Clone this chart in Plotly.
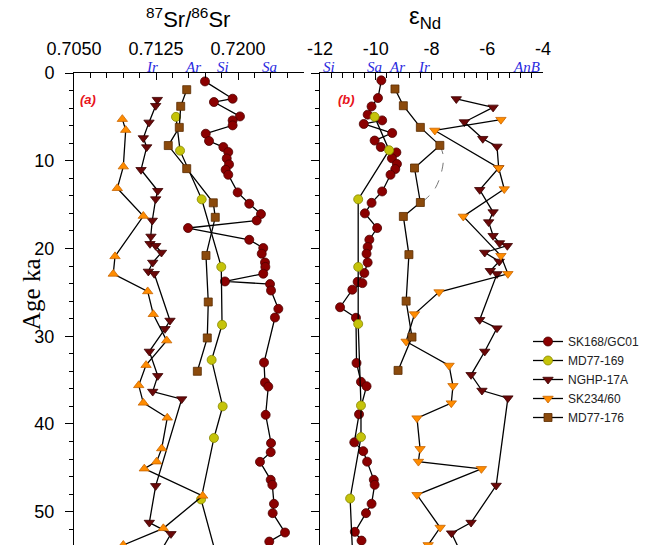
import plotly.graph_objects as go

# ---------------- data ----------------
series_names = ["SK168/GC01", "MD77-169", "NGHP-17A", "SK234/60", "MD77-176"]

# 87Sr/86Sr (panel a)
sk168_sr_age = [0.96, 2.93, 3.31, 4.95, 5.40, 5.97, 6.92, 7.75, 8.44, 9.01, 9.74, 10.42, 11.03, 11.60,
                13.61, 14.90, 16.08, 16.81, 17.67, 19.01, 19.95, 20.60, 21.6, 22.1, 22.88, 23.76, 24.06,
                24.79, 26.88, 27.87, 33.0, 35.28, 35.74, 38.96, 42.19, 43.22, 44.32, 46.37, 46.94,
                49.11, 50.17, 52.38, 53.41]
sk168_sr = [0.71698, 0.71951, 0.71780, 0.72018, 0.71951, 0.71951, 0.71705, 0.71735, 0.71866, 0.71911,
            0.71897, 0.71918, 0.71887, 0.71911, 0.71997, 0.72103, 0.72210, 0.72171, 0.71543, 0.72103,
            0.72231, 0.72217, 0.72247, 0.72250, 0.72231, 0.71881, 0.72293, 0.72302, 0.72369, 0.72338,
            0.72238, 0.72247, 0.72277, 0.72253, 0.72302, 0.72299, 0.72201, 0.72299, 0.72314, 0.72329,
            0.72317, 0.72430, 0.72286]

md169_sr_age = [5.0, 8.85, 14.4, 22.1, 28.7, 32.7, 38.0, 41.6, 48.6, 57.0]
md169_sr = [0.71433, 0.71470, 0.71668, 0.71847, 0.71854, 0.71759, 0.71860, 0.71780, 0.71662, 0.71845]

nghp_sr_age = [3.04, 3.73, 5.63, 7.41, 8.44, 11.03, 13.42, 14.37, 16.81, 18.63, 19.47, 19.69, 20.46,
               21.6, 22.62, 22.88, 28.21, 29.16, 31.74, 34.52, 36.31, 37.17, 47.06, 51.24, 52.53, 56.5]
nghp_sr = [0.71262, 0.71247, 0.71186, 0.71134, 0.71165, 0.71113, 0.71266, 0.71247, 0.71216, 0.71204,
           0.71195, 0.71247, 0.71300, 0.71220, 0.71180, 0.71234, 0.71378, 0.71332, 0.71189, 0.71266,
           0.71220, 0.71485, 0.71247, 0.71189, 0.71387, 0.71200]

sk234_sr_age = [5.26, 6.51, 10.67, 13.14, 16.3, 20.9, 22.9, 24.9, 27.5, 30.5, 33.3, 35.6, 37.6, 39.3,
                42.8, 44.3, 45.1, 48.2, 51.9, 53.8]
sk234_sr = [0.70942, 0.70973, 0.70951, 0.70896, 0.71134, 0.70875, 0.70859, 0.71174, 0.71225, 0.71348,
            0.71159, 0.71092, 0.71134, 0.71353, 0.71302, 0.71256, 0.71143, 0.71677, 0.71317, 0.70951]

md176_sr_age = [1.9, 3.8, 6.2, 8.27, 10.9, 14.8, 16.45, 20.8, 26.1, 30.2, 34.0]
md176_sr = [0.71531, 0.71476, 0.71463, 0.71362, 0.71531, 0.71774, 0.71792, 0.71707, 0.71728, 0.71719,
            0.71628]

# eps Nd (panel b)
sk168_nd_age = [0.84, 2.85, 3.81, 4.75, 5.40, 5.81, 6.84, 7.70, 8.44, 9.05, 9.72, 10.37, 10.95, 11.60,
                13.50, 14.80, 16.00, 17.67, 19.00, 19.83, 20.60, 21.60, 22.80, 23.80, 23.95, 24.70,
                26.70, 27.90, 33.05, 35.20, 35.70, 38.90, 42.10, 43.10, 44.30, 46.37, 46.94, 49.10,
                50.17, 52.30, 53.30]
sk168_nd = [-9.80, -9.92, -10.15, -10.29, -9.77, -10.43, -9.41, -10.04, -9.82, -9.26, -9.42, -9.24,
            -9.30, -9.47, -9.77, -10.15, -10.39, -9.95, -10.23, -10.29, -10.33, -10.29, -10.41, -10.65,
            -10.48, -10.84, -11.28, -10.71, -10.69, -10.53, -10.33, -10.60, -10.77, -10.45, -10.31,
            -10.07, -10.04, -10.15, -10.35, -10.75, -10.51]

md169_nd_age = [5.0, 8.8, 14.4, 22.1, 28.6, 37.9, 41.5, 48.5, 57.0]
md169_nd = [-10.04, -9.52, -10.63, -10.63, -10.63, -10.53, -10.53, -10.92, -10.80]

nghp_nd_age = [2.96, 3.92, 5.59, 7.49, 8.37, 10.83, 13.31, 15.85, 16.99, 18.55, 19.38, 19.69, 20.46,
               21.48, 22.54, 22.90, 28.13, 29.08, 31.74, 34.40, 36.19, 37.06, 47.02, 51.24, 52.45, 56.0]
nghp_nd = [-7.11, -5.79, -6.82, -6.16, -5.65, -5.59, -6.27, -5.79, -5.95, -5.79, -5.56, -5.28, -6.09,
           -5.57, -5.89, -5.65, -6.27, -5.65, -6.09, -6.58, -6.19, -5.26, -5.68, -6.58, -7.28, -6.75]

sk234_nd_age = [5.32, 6.55, 10.83, 13.23, 16.35, 20.83, 22.89, 24.97, 27.48, 30.6, 33.34, 35.66, 37.63,
                39.34, 42.84, 44.29, 45.12, 48.08, 51.81, 53.79]
sk234_nd = [-5.51, -7.88, -5.59, -5.39, -6.86, -5.51, -5.26, -7.73, -8.61, -8.91, -7.37, -7.23, -7.29,
            -8.52, -8.41, -8.47, -6.21, -8.52, -7.69, -8.12]

md176_nd_age = [1.82, 3.73, 6.2, 8.25, 10.83, 14.76, 16.35, 20.7, 26.0, 30.1, 33.9]
md176_nd = [-9.31, -9.01, -8.40, -7.70, -8.61, -8.40, -9.01, -8.81, -8.91, -8.70, -9.20]

# dashed link drawn in panel b
link_nd_age = [8.25, 9.4, 11.0, 13.1, 14.4, 14.76]
link_nd = [-7.70, -7.58, -7.62, -7.86, -8.22, -8.40]

# end-member reference marks
sr_bar_vals = [0.71339, 0.71485, 0.71994, 0.72158]
sr_lab_text = ["Ir", "Ar", "Si", "Sa"]
sr_lab_vals = [0.71213, 0.71588, 0.71863, 0.72284]
nd_bar_vals = [-11.22, -10.43, -8.90, -8.76, -5.16]
nd_lab_text = ["Si", "Sa", "Ar", "Ir", "AnB"]
nd_lab_vals = [-11.68, -10.05, -9.23, -8.27, -4.58]

sr_ticks = [0.7050, 0.7125, 0.7200]
sr_ticktext = ["0.7050", "0.7125", "0.7200"]
nd_ticks = [-12, -10, -8, -6, -4]
age_ticks = [0, 10, 20, 30, 40, 50]

# ---------------- styles ----------------
styles = {
    "SK168/GC01": dict(symbol="circle", color="#8b0000", line="#4d0000", size=9),
    "MD77-169": dict(symbol="circle", color="#c5c30a", line="#878600", size=9),
    "NGHP-17A": dict(symbol="triangle-down", color="#6a0808", line="#3a0000", size=9),
    "SK234/60": dict(symbol="triangle-down", color="#ff8c00", line="#c86400", size=9),
    "MD77-176": dict(symbol="square", color="#8b4a0c", line="#5a2c00", size=8),
}

sr_data = {
    "SK168/GC01": (sk168_sr, sk168_sr_age),
    "MD77-169": (md169_sr, md169_sr_age),
    "NGHP-17A": (nghp_sr, nghp_sr_age),
    "SK234/60": (sk234_sr, sk234_sr_age),
    "MD77-176": (md176_sr, md176_sr_age),
}
nd_data = {
    "SK168/GC01": (sk168_nd, sk168_nd_age),
    "MD77-169": (md169_nd, md169_nd_age),
    "NGHP-17A": (nghp_nd, nghp_nd_age),
    "SK234/60": (sk234_nd, sk234_nd_age),
    "MD77-176": (md176_nd, md176_nd_age),
}

fig = go.Figure()

fig.add_trace(go.Scatter(x=link_nd, y=link_nd_age, xaxis="x2", yaxis="y2", mode="lines",
                         line=dict(color="#777777", width=1, dash="dash", shape="spline"),
                         showlegend=False, hoverinfo="skip"))

for name in series_names:
    st = styles[name]
    xs, ys = sr_data[name]
    sym_left = "triangle-up" if name == "SK234/60" else st["symbol"]
    fig.add_trace(go.Scatter(
        x=xs, y=ys, xaxis="x", yaxis="y", mode="lines+markers", name=name,
        showlegend=False,
        line=dict(color="black", width=1.3),
        marker=dict(symbol=sym_left, size=st["size"], color=st["color"],
                    line=dict(color=st["line"], width=0.8)),
    ))
    xs, ys = nd_data[name]
    fig.add_trace(go.Scatter(
        x=xs, y=ys, xaxis="x2", yaxis="y2", mode="lines+markers", name=name,
        showlegend=True,
        line=dict(color="black", width=1.3),
        marker=dict(symbol=st["symbol"], size=st["size"], color=st["color"],
                    line=dict(color=st["line"], width=0.8)),
    ))

bar_y = -0.3
fig.add_trace(go.Scatter(x=sr_bar_vals, y=[bar_y] * len(sr_bar_vals), xaxis="x", yaxis="y",
                         mode="markers", cliponaxis=False, showlegend=False, hoverinfo="skip",
                         marker=dict(symbol="line-ns", size=19,
                                     line=dict(color="#ee1111", width=3.2))))
fig.add_trace(go.Scatter(x=nd_bar_vals, y=[bar_y] * len(nd_bar_vals), xaxis="x2", yaxis="y2",
                         mode="markers", cliponaxis=False, showlegend=False, hoverinfo="skip",
                         marker=dict(symbol="line-ns", size=19,
                                     line=dict(color="#ee1111", width=3.2))))

ML, MR, MT, MB = 74, 108, 73, 0
W, H = 651, 545
pw = W - ML - MR
ph = H - MT - MB
left_end = (303.6 - ML) / pw
right_start = (320 - ML) / pw

def py(yp):
    return (H - MB - yp) / ph

def px(xp):
    return (xp - ML) / pw

font_main = "Arial, Liberation Sans, sans-serif"
font_serif = "Times New Roman, Liberation Serif, serif"

annotations = []
for t, v in zip(sr_lab_text, sr_lab_vals):
    annotations.append(dict(x=v, xref="x", y=py(67), yref="paper", text="<i>%s</i>" % t,
                            showarrow=False, font=dict(family=font_serif, size=15, color="#2a2ae0"),
                            xanchor="center", yanchor="middle"))
for t, v in zip(nd_lab_text, nd_lab_vals):
    annotations.append(dict(x=v, xref="x2", y=py(67), yref="paper", text="<i>%s</i>" % t,
                            showarrow=False, font=dict(family=font_serif, size=15, color="#2a2ae0"),
                            xanchor="center", yanchor="middle"))

annotations += [
    dict(x=px(188), y=py(18), xref="paper", yref="paper", showarrow=False,
         text="<sup>87</sup>Sr/<sup>86</sup>Sr", font=dict(family=font_main, size=22, color="black"),
         xanchor="center", yanchor="middle"),
    dict(x=px(425), y=py(18), xref="paper", yref="paper", showarrow=False,
         text="ε<sub>Nd</sub>", font=dict(family=font_main, size=24, color="black"),
         xanchor="center", yanchor="middle"),
    dict(x=px(31), y=py(294), xref="paper", yref="paper", showarrow=False, textangle=-90,
         text="Age ka", font=dict(family=font_serif, size=25, color="black"),
         xanchor="center", yanchor="middle"),
    dict(x=px(88), y=py(100), xref="paper", yref="paper", showarrow=False,
         text="<b><i>(a)</i></b>", font=dict(family=font_main, size=13, color="#e8141b"),
         xanchor="center", yanchor="middle"),
    dict(x=px(346), y=py(100), xref="paper", yref="paper", showarrow=False,
         text="<b><i>(b)</i></b>", font=dict(family=font_main, size=13, color="#e8141b"),
         xanchor="center", yanchor="middle"),
]

xcommon = dict(side="top", showline=True, linecolor="black", linewidth=1, showgrid=False,
               zeroline=False, ticks="inside", ticklen=7, tickcolor="black", tickwidth=1,
               tickfont=dict(family=font_main, size=18, color="black"), ticklabelstandoff=10)
ycommon = dict(range=[53.8, 0], showline=True, linecolor="black", linewidth=1, showgrid=False,
               zeroline=False, ticks="outside", ticklen=8, tickcolor="black", tickwidth=1.2,
               tickvals=age_ticks,
               minor=dict(dtick=2, tick0=0, ticks="outside", ticklen=4, tickcolor="black"),
               tickfont=dict(family=font_main, size=18, color="black"))

fig.update_layout(
    width=W, height=H,
    margin=dict(l=ML, r=MR, t=MT, b=MB),
    paper_bgcolor="white", plot_bgcolor="white",
    xaxis=dict(domain=[0, left_end], range=[0.705, 0.726], anchor="y",
               tickvals=sr_ticks, ticktext=sr_ticktext,
               minor=dict(dtick=0.0015, tick0=0.705, ticks="inside", ticklen=5, tickcolor="black"),
               **xcommon),
    xaxis2=dict(domain=[right_start, 1], range=[-12, -4], anchor="y2",
                tickvals=nd_ticks, ticktext=[str(v) for v in nd_ticks],
                minor=dict(dtick=0.4, tick0=-12, ticks="inside", ticklen=5, tickcolor="black"),
                **xcommon),
    yaxis=dict(anchor="x", ticklabelstandoff=7, **ycommon),
    yaxis2=dict(anchor="x2", matches="y", showticklabels=False, **ycommon),
    legend=dict(x=px(528), y=py(327), xanchor="left", yanchor="top",
                font=dict(family=font_main, size=12, color="#222222"),
                tracegroupgap=0,
                bgcolor="rgba(0,0,0,0)", borderwidth=0),
    annotations=annotations,
    showlegend=True,
)

fig.write_html("out.html",
               config={"displayModeBar": False},
               post_script="document.body.style.margin='0';document.body.style.overflow='hidden';")
